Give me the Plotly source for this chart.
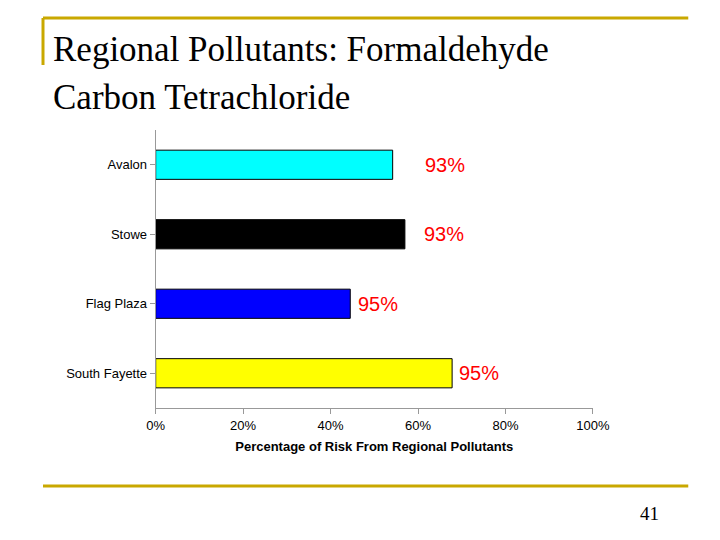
import plotly.graph_objects as go

categories = ["Avalon", "Stowe", "Flag Plaza", "South Fayette"]
values = [54.2, 57.0, 44.5, 67.8]
labels = ["93%", "93%", "95%", "95%"]
colors = ["#00FFFF", "#000000", "#0000FF", "#FFFF00"]
tick_vals = [0, 20, 40, 60, 80, 100]
tick_text = ["0%", "20%", "40%", "60%", "80%", "100%"]

W, H = 704, 524
OFF = 8
def px(x): return (x - OFF) / W
def py(y): return 1 - (y - OFF) / H

x0, x1 = 152, 606
ytop, ybot = 130, 408

fig = go.Figure(go.Bar(
    y=categories, x=values, orientation="h",
    marker=dict(color=colors, line=dict(color="black", width=1)),
    width=0.42,
))

shifts = [30, 17, 6, 5]
for c, v, l, s in zip(categories, values, labels, shifts):
    fig.add_annotation(x=v, y=c, text=l, showarrow=False, xanchor="left",
                       xshift=s, font=dict(color="#FF0000", size=20, family="Liberation Sans"))

gold = "#C9A800"
shapes = [
    dict(type="line", xref="paper", yref="paper", x0=px(35), x1=px(705), y0=py(18), y1=py(18), line=dict(color=gold, width=3)),
    dict(type="line", xref="paper", yref="paper", x0=px(35), x1=px(35), y0=py(18), y1=py(65), line=dict(color=gold, width=3)),
    dict(type="line", xref="paper", yref="paper", x0=px(35), x1=px(705), y0=py(486), y1=py(486), line=dict(color=gold, width=3)),
]

fig.update_layout(
    width=W, height=H, margin=dict(l=0, r=0, t=0, b=0),
    paper_bgcolor="white", plot_bgcolor="white", showlegend=False,
    shapes=shapes,
    font=dict(family="Liberation Sans", color="black"),
    xaxis=dict(domain=[px(x0), px(x1)], range=[0, 100], tickvals=tick_vals, ticktext=tick_text,
               showgrid=False, zeroline=False, showline=True, linecolor="#999999",
               ticks="outside", tickcolor="#999999", ticklen=5, tickfont=dict(size=13),
               title=dict(text="<b>Percentage of Risk From Regional Pollutants</b>", font=dict(size=13), standoff=10)),
    yaxis=dict(domain=[py(ybot), py(ytop)], autorange="reversed", showgrid=False,
               showline=True, linecolor="#999999", ticks="outside", tickcolor="#999999",
               ticklen=5, tickfont=dict(size=13)),
)
fig.add_annotation(xref="paper", yref="paper", x=px(43), y=py(50), yanchor="middle", text="Regional Pollutants: Formaldehyde",
                   showarrow=False, xanchor="left", font=dict(family="Liberation Serif", size=35))
fig.add_annotation(xref="paper", yref="paper", x=px(43), y=py(97), yanchor="middle", text="Carbon Tetrachloride",
                   showarrow=False, xanchor="left", font=dict(family="Liberation Serif", size=35))
fig.add_annotation(xref="paper", yref="paper", x=px(677), y=py(513), yanchor="middle", text="41",
                   showarrow=False, xanchor="right", font=dict(family="Liberation Serif", size=19))

fig.write_html("out.html")
